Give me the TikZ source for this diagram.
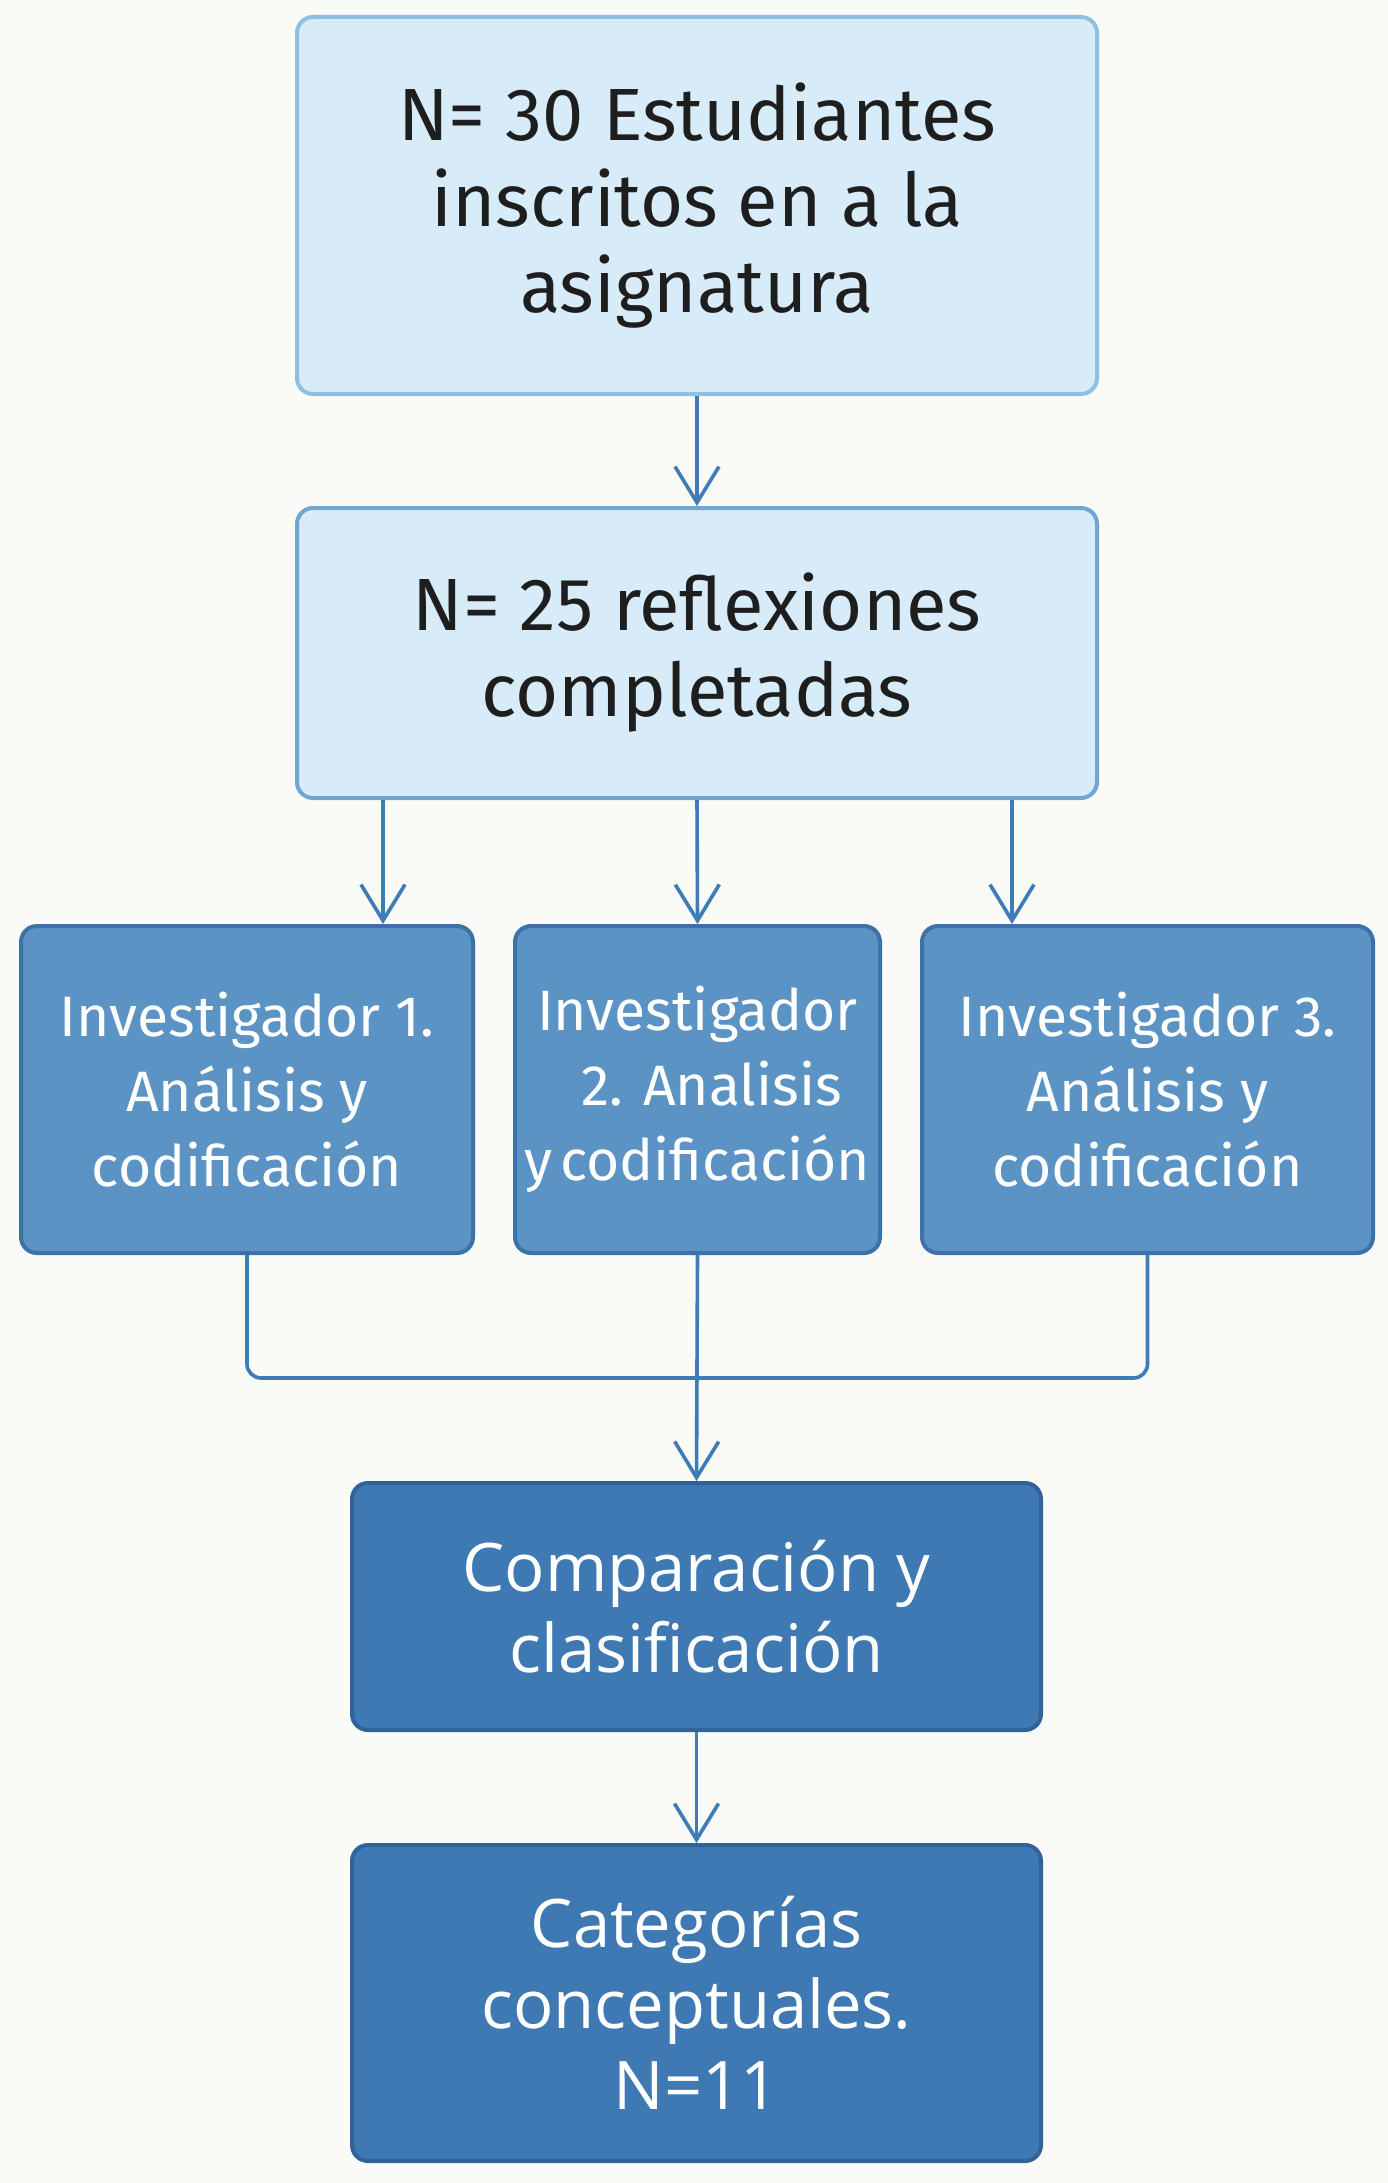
\documentclass[tikz,border=0pt]{standalone}
\usepackage{fontspec}
\setmainfont{Fira Sans}
\newfontfamily\bodyfont{Open Sans}
\usetikzlibrary{arrows.meta,calc}
\definecolor{bgc}{HTML}{FAFAF7}
\definecolor{lightfill}{HTML}{D7EBF8}
\definecolor{lightdraw}{HTML}{8EC0DF}
\definecolor{lightdrawb}{HTML}{6FA6D3}
\definecolor{midfill}{HTML}{5B93C5}
\definecolor{middraw}{HTML}{3D72A8}
\definecolor{darkfill}{HTML}{3F79B3}
\definecolor{darkdraw}{HTML}{2F6399}
\definecolor{connc}{HTML}{3E7CB8}
\definecolor{txtdark}{HTML}{1E1E1E}
\tikzset{
  boxbase/.style={rectangle, rounded corners=16pt, line width=4pt, align=center, inner sep=0pt},
  lightbox/.style={boxbase, fill=lightfill, draw=lightdraw, text=txtdark, font=\fontsize{74}{86}\selectfont},
  lightboxb/.style={lightbox, draw=lightdrawb},
  midbox/.style={boxbase, fill=midfill, draw=middraw, text=white, font=\fontsize{57}{75}\selectfont},
  darkbox/.style={boxbase, fill=darkfill, draw=darkdraw, text=white, font=\bodyfont\fontsize{67}{81}\selectfont},
  conn/.style={draw=connc, line width=3.6pt},
  arr/.style={conn, -{Straight Barb[length=36pt,width=44pt,line width=3.6pt]}}
}
\begin{document}
\begin{tikzpicture}[x=1pt,y=-1pt]
\fill[bgc] (0,0) rectangle (1388,2183);
\useasboundingbox (0,0) rectangle (1388,2183);
\node[lightbox, minimum width=800pt, minimum height=377pt] (top) at (697,205.5)
  {N= 30 Estudiantes\\inscritos en a la\\asignatura};
\node[lightboxb, minimum width=800pt, minimum height=290pt] (b2) at (697,653)
  {N= 25 reflexiones\\completadas};
\node[midbox, minimum width=452pt, minimum height=327pt] (l) at (247,1089.5)
  {Investigador 1.\\Análisis y\\codificación};
\node[midbox, minimum width=365pt, minimum height=327pt] (m) at (697.5,1089.5)
  {Investigador\\\phantom{y}2. Analisis\\y\hspace{-8pt} codificación};
\node[midbox, minimum width=451pt, minimum height=327pt] (r) at (1147.5,1089.5)
  {Investigador 3.\\Análisis y\\codificación};
\node[darkbox, minimum width=689pt, minimum height=247pt] (c) at (696.5,1606.5)
  {Comparación y\\clasificación};
\node[darkbox, minimum width=689pt, minimum height=316pt] (k) at (696.5,2003)
  {Categorías\\conceptuales.\\N=11};
\coordinate (xL) at (383,0);
\coordinate (xR) at (1012,0);
\coordinate (bar) at (697,1378);
\draw[arr] (top.south) -- (b2.north);
\draw[arr] (b2.south -| xL) -- (xL |- l.north);
\draw[arr] (b2.south) -- (m.north);
\draw[arr] (b2.south -| xR) -- (xR |- r.north);
\draw[conn, rounded corners=14pt] (l.south) -- (l.south |- bar) -- (r.south |- bar) -- (r.south);
\draw[arr] (m.south) -- (c.north);
\draw[arr] (c.south) -- (k.north);
\end{tikzpicture}
\end{document}
